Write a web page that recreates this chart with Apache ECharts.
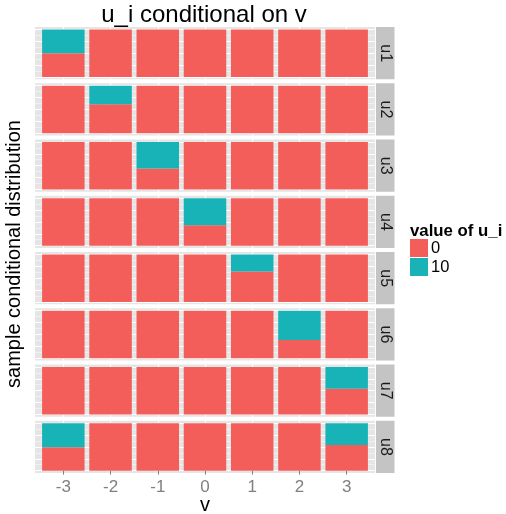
<!DOCTYPE html>
<html>
<head>
<meta charset="utf-8">
<script src="https://cdn.jsdelivr.net/npm/echarts@6/dist/echarts.min.js"></script>
<style>
html,body{margin:0;padding:0;background:#fff;}
#chart{width:506px;height:514px;}
</style>
</head>
<body>
<div id="chart"></div>
<script>
// ---- data ----
const categoriesV = [-3, -2, -1, 0, 1, 2, 3];
const xTickLabels = ['-3', '-2', '-1', '0', '1', '2', '3'];
const rowLabels = ['u1', 'u2', 'u3', 'u4', 'u5', 'u6', 'u7', 'u8'];
const legendLabels = ['0', '10'];
// share of value 10 in each v column (rest is value 0)
const tenShareU1 = [0.50, 0, 0, 0, 0, 0, 0];
const tenShareU2 = [0, 0.39, 0, 0, 0, 0, 0];
const tenShareU3 = [0, 0, 0.56, 0, 0, 0, 0];
const tenShareU4 = [0, 0, 0, 0.57, 0, 0, 0];
const tenShareU5 = [0, 0, 0, 0, 0.36, 0, 0];
const tenShareU6 = [0, 0, 0, 0, 0, 0.62, 0];
const tenShareU7 = [0, 0, 0, 0, 0, 0, 0.46];
const tenShareU8 = [0.51, 0, 0, 0, 0, 0, 0.46];
const tenShares = [tenShareU1, tenShareU2, tenShareU3, tenShareU4, tenShareU5, tenShareU6, tenShareU7, tenShareU8];

// ---- layout / style ----
const RED = '#F35E5A', TEAL = '#17B3B7';
const FONT = '"Liberation Sans", Arial, Helvetica, sans-serif';
const PL = 35, PW = 340, PT = 27, PH = 52.25, PG = 4;
const nRows = rowLabels.length;

const chart = echarts.init(document.getElementById('chart'));

function renderRect(params, api) {
  const x = api.value(0), lo = api.value(1), hi = api.value(2);
  if (hi - lo <= 0) return null;
  const a = api.coord([x - 0.45, hi]);
  const b = api.coord([x + 0.45, lo]);
  return {
    type: 'rect',
    shape: { x: a[0], y: a[1], width: b[0] - a[0], height: b[1] - a[1] },
    style: api.style()
  };
}

const grids = [], xAxes = [], yAxes = [], series = [], graphics = [];
rowLabels.forEach((lab, i) => {
  const top = PT + i * (PH + PG);
  const last = i === nRows - 1;
  grids.push({ left: PL, width: PW, top: top, height: PH, show: true,
    backgroundColor: '#E5E5E5', borderWidth: 0, containLabel: false });
  xAxes.push({
    type: 'value', gridIndex: i, min: -3.6, max: 3.6,
    axisLine: { show: false },
    axisTick: { show: last, customValues: categoriesV, length: 4,
      lineStyle: { color: '#7F7F7F', width: 1 } },
    axisLabel: { show: last, customValues: categoriesV, margin: 6,
      color: '#7F7F7F', fontSize: 17, fontFamily: FONT,
      formatter: v => xTickLabels[categoriesV.indexOf(Math.round(v))] },
    splitLine: { show: true, lineStyle: { color: '#FFFFFF', width: 1.2 } }
  });
  yAxes.push({
    type: 'value', gridIndex: i, min: -0.05, max: 1.05,
    axisLine: { show: false }, axisLabel: { show: false },
    axisTick: { show: false, customValues: [0.125, 0.375, 0.625, 0.875] },
    splitLine: { show: true, lineStyle: { color: '#F2F2F2', width: 0.8 } }
  });
  yAxes.push({
    type: 'value', gridIndex: i, min: -0.05, max: 1.05,
    axisLine: { show: false }, axisLabel: { show: false },
    axisTick: { show: false, customValues: [0, 0.25, 0.5, 0.75, 1] },
    splitLine: { show: true, lineStyle: { color: '#FFFFFF', width: 1.2 } }
  });
  const share = tenShares[i];
  const zeroData = categoriesV.map((v, k) => [v, 0, 1 - share[k]]);
  const tenData = categoriesV.map((v, k) => [v, 1 - share[k], 1]);
  series.push({ type: 'custom', name: legendLabels[0], xAxisIndex: i, yAxisIndex: 2 * i + 1,
    renderItem: renderRect, encode: { x: 0, y: [1, 2] }, data: zeroData,
    itemStyle: { color: RED }, silent: true });
  series.push({ type: 'custom', name: legendLabels[1], xAxisIndex: i, yAxisIndex: 2 * i + 1,
    renderItem: renderRect, encode: { x: 0, y: [1, 2] }, data: tenData,
    itemStyle: { color: TEAL }, silent: true });
  // strip
  graphics.push({ type: 'rect', shape: { x: PL + PW + 1, y: top, width: 18.5, height: PH },
    style: { fill: '#C4C4C4' }, silent: true });
  graphics.push({ type: 'text', x: PL + PW + 1 + 9.5, y: top + PH / 2, rotation: -Math.PI / 2,
    style: { text: lab, fill: '#1A1A1A', font: '16px ' + FONT, textAlign: 'center', textVerticalAlign: 'middle' },
    silent: true });
});

const panelsBottom = PT + nRows * PH + (nRows - 1) * PG;
graphics.push({ type: 'text', x: PL + PW / 2 - 1, y: 15,
  style: { text: 'u_i conditional on v', fill: '#000', font: '24px ' + FONT, textAlign: 'center', textVerticalAlign: 'middle' } });
graphics.push({ type: 'text', x: PL + PW / 2, y: panelsBottom + 32,
  style: { text: 'v', fill: '#000', font: '20px ' + FONT, textAlign: 'center', textVerticalAlign: 'middle' } });
graphics.push({ type: 'text', x: 14, y: (PT + panelsBottom) / 2 + 4, rotation: Math.PI / 2,
  style: { text: 'sample conditional distribution', fill: '#000', font: '20px ' + FONT, textAlign: 'center', textVerticalAlign: 'middle' } });
graphics.push({ type: 'text', x: 410, y: 231,
  style: { text: 'value of u_i', fill: '#000', font: 'bold 16.8px ' + FONT, textAlign: 'left', textVerticalAlign: 'middle' } });

chart.setOption({
  animation: false,
  backgroundColor: '#FFFFFF',
  grid: grids, xAxis: xAxes, yAxis: yAxes, series: series,
  legend: { data: legendLabels, orient: 'vertical', left: 410, top: 239, padding: 0,
    itemWidth: 18, itemHeight: 18, itemGap: 1, icon: 'rect', selectedMode: false,
    textStyle: { fontSize: 16.5, color: '#000', fontFamily: FONT, padding: [0, 0, 0, -2] } },
  graphic: graphics
});
</script>
</body>
</html>
